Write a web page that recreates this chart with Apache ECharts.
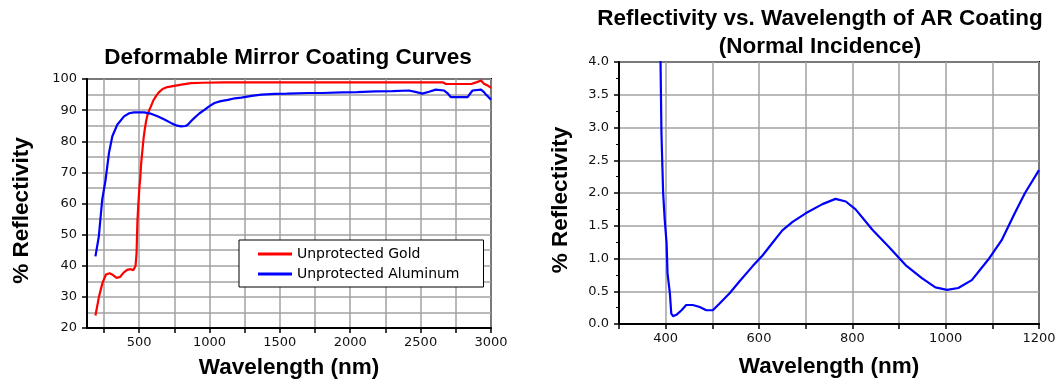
<!DOCTYPE html>
<html>
<head>
<meta charset="utf-8">
<script src="https://cdn.jsdelivr.net/npm/echarts@6/dist/echarts.min.js"></script>
<style>
  html, body { margin: 0; padding: 0; background: #fff; }
  #chart { width: 1062px; height: 385px; }
</style>
</head>
<body>
<div id="chart"></div>
<script>
// Deformable mirror coatings: reflectivity (%) against wavelength (nm)
const goldWavelength = [190, 215, 240, 265, 290, 315, 340, 365, 390, 415, 440, 460, 475, 482, 488, 495, 502, 508, 515, 524, 532, 540, 550, 560, 572, 584, 600, 619, 640, 667, 700, 750, 800, 869, 950, 1100, 1300, 1500, 1700, 1900, 2100, 2300, 2500, 2660, 2680, 2860, 2900, 2929, 2950, 2980, 3000];
const goldReflectivity = [24, 30, 34.5, 37.2, 37.6, 37.0, 36.1, 36.4, 37.8, 38.7, 38.9, 38.6, 40, 44, 54, 60, 65, 68, 73, 77.3, 81, 83.7, 86.5, 88.5, 90, 91.2, 93, 94.4, 95.7, 96.8, 97.4, 97.8, 98.2, 98.7, 98.8, 98.9, 98.9, 98.9, 98.9, 98.9, 98.9, 98.9, 98.9, 98.9, 98.4, 98.4, 99.0, 99.5, 98.5, 97.8, 97.2];

const aluminumWavelength = [190, 214, 238, 262, 286, 310, 345, 393, 430, 464, 536, 580, 631, 680, 726, 770, 798, 830, 846, 870, 893, 930, 964, 1000, 1036, 1080, 1131, 1180, 1226, 1300, 1369, 1464, 1550, 1703, 1800, 1941, 2050, 2179, 2300, 2417, 2470, 2512, 2560, 2607, 2667, 2690, 2714, 2834, 2855, 2869, 2929, 2950, 2964, 2990, 3000];
const aluminumReflectivity = [43, 49.4, 61.2, 67.6, 76.2, 81.6, 85.3, 88, 89, 89.3, 89.3, 88.9, 88, 87, 85.9, 85, 84.8, 84.9, 85.3, 86.5, 87.5, 89, 90.1, 91.3, 92.3, 92.9, 93.3, 93.8, 94.0, 94.6, 95.0, 95.2, 95.3, 95.5, 95.5, 95.7, 95.8, 96.0, 96.1, 96.3, 95.8, 95.3, 95.9, 96.6, 96.3, 95.5, 94.2, 94.2, 95.5, 96.3, 96.6, 95.8, 95.0, 93.8, 93.3];

// AR coating at normal incidence: reflectivity (%) against wavelength (nm)
const arWavelength = [388, 389, 391, 394.6, 398, 402, 404, 409, 412, 416, 423, 434, 444, 458, 473, 487, 501, 515, 537, 558, 586, 608, 629, 650, 672, 700, 736, 764, 786, 807, 843, 878, 914, 949, 978, 1003, 1027, 1056, 1091, 1120, 1148, 1170, 1200];
const arReflectivity = [4.4, 4.0, 2.9, 2.0, 1.59, 1.23, 0.77, 0.47, 0.16, 0.12, 0.14, 0.21, 0.29, 0.29, 0.26, 0.21, 0.21, 0.31, 0.47, 0.65, 0.88, 1.05, 1.24, 1.43, 1.56, 1.69, 1.83, 1.91, 1.87, 1.75, 1.44, 1.18, 0.90, 0.70, 0.56, 0.52, 0.55, 0.67, 0.98, 1.28, 1.69, 2.0, 2.35];

// Tick and label values
const mirrorXTicks = [250, 500, 750, 1000, 1250, 1500, 1750, 2000, 2250, 2500, 2750, 3000];
const mirrorXLabels = [500, 1000, 1500, 2000, 2500, 3000];
const arXLabels = [400, 600, 800, 1000, 1200];

const pairs = (xs, ys) => xs.map((x, i) => [x, ys[i]]);

const TITLE_FONT = { fontFamily: '"Liberation Sans", Arial, sans-serif', fontWeight: 'bold', fontSize: 22.5, color: '#000', lineHeight: 28 };
const TICK_FONT = { fontFamily: '"DejaVu Sans", sans-serif', fontSize: 13, color: '#111' };
const AXIS_LINE = { show: true, onZero: false, lineStyle: { color: '#000', width: 2 } };
const GRID_STYLE = { color: '#a2a2a2', width: 1.5 };
const GRID_LINE = { show: true, lineStyle: GRID_STYLE };
const TICK = { show: true, inside: false, length: 5, lineStyle: { color: '#000', width: 1.5 } };

const chart = echarts.init(document.getElementById('chart'), null, { renderer: 'canvas' });

chart.setOption({
  animation: false,
  backgroundColor: '#fff',
  title: [
    { text: 'Deformable Mirror Coating Curves', left: 288, top: 44, textAlign: 'center', padding: 0, textStyle: TITLE_FONT },
    { text: 'Reflectivity vs. Wavelength of AR Coating\n(Normal Incidence)', left: 820, top: 5, textAlign: 'center', padding: 0, textStyle: TITLE_FONT }
  ],
  legend: {
    data: ['Unprotected Gold', 'Unprotected Aluminum'],
    orient: 'vertical',
    left: 239,
    top: 240,
    padding: [7, 24, 6, 19],
    icon: 'rect',
    itemWidth: 34,
    itemHeight: 3,
    itemGap: 6,
    backgroundColor: '#fff',
    borderColor: '#000',
    borderWidth: 1,
    textStyle: { fontFamily: '"DejaVu Sans", sans-serif', fontSize: 14, color: '#000', lineHeight: 14 }
  },
  grid: [
    { left: 87, top: 79, width: 404, height: 249, outerBoundsMode: 'none', containLabel: false, show: true, borderColor: '#000', borderWidth: 2, backgroundColor: 'transparent' },
    { left: 619, top: 62, width: 420, height: 262, outerBoundsMode: 'none', containLabel: false, show: true, borderColor: '#000', borderWidth: 2, backgroundColor: 'transparent' }
  ],
  xAxis: [
    {
      type: 'value', gridIndex: 0, min: 130, max: 3000,
      axisLine: AXIS_LINE,
      axisTick: Object.assign({}, TICK, { customValues: mirrorXTicks }),
      axisLabel: Object.assign({}, TICK_FONT, { margin: 8, customValues: mirrorXLabels, formatter: v => String(v) }),
      splitLine: GRID_LINE,
      name: 'Wavelength (nm)', nameLocation: 'middle', nameGap: 25,
      nameTextStyle: TITLE_FONT
    },
    {
      type: 'value', gridIndex: 1, min: 300, max: 1200, interval: 100,
      axisLine: AXIS_LINE,
      axisTick: TICK,
      axisLabel: Object.assign({}, TICK_FONT, {
        margin: 8,
        formatter: v => (arXLabels.indexOf(v) >= 0 ? String(v) : '')
      }),
      splitLine: GRID_LINE,
      name: 'Wavelength (nm)', nameLocation: 'middle', nameGap: 29,
      nameTextStyle: TITLE_FONT
    }
  ],
  yAxis: [
    {
      type: 'value', gridIndex: 0, min: 20, max: 100, interval: 10,
      axisLine: AXIS_LINE,
      axisTick: TICK,
      minorTick: { show: false, splitNumber: 2 },
      minorSplitLine: { show: true, lineStyle: GRID_STYLE },
      axisLabel: Object.assign({}, TICK_FONT, { margin: 10 }),
      splitLine: GRID_LINE,
      name: '% Reflectivity', nameLocation: 'middle', nameRotate: 90, nameGap: 51,
      nameTextStyle: Object.assign({}, TITLE_FONT, { padding: [0, 14, 0, 0] })
    },
    {
      type: 'value', gridIndex: 1, min: 0, max: 4, interval: 0.5,
      axisLine: AXIS_LINE,
      axisTick: TICK,
      minorTick: { show: true, splitNumber: 2, length: 3, lineStyle: { color: '#000', width: 1 } },
      axisLabel: Object.assign({}, TICK_FONT, { margin: 10, formatter: v => v.toFixed(1) }),
      splitLine: GRID_LINE,
      name: '% Reflectivity', nameLocation: 'middle', nameRotate: 90, nameGap: 44,
      nameTextStyle: Object.assign({}, TITLE_FONT, { padding: [0, 14, 0, 0] })
    }
  ],
  series: [
    {
      name: 'Unprotected Gold', type: 'line', xAxisIndex: 0, yAxisIndex: 0,
      data: pairs(goldWavelength, goldReflectivity),
      symbol: 'none', clip: true,
      lineStyle: { color: '#ff0000', width: 2.2 }, itemStyle: { color: '#ff0000' }
    },
    {
      name: 'Unprotected Aluminum', type: 'line', xAxisIndex: 0, yAxisIndex: 0,
      data: pairs(aluminumWavelength, aluminumReflectivity),
      symbol: 'none', clip: true,
      lineStyle: { color: '#0000ff', width: 2.2 }, itemStyle: { color: '#0000ff' }
    },
    {
      name: 'AR Coating', type: 'line', xAxisIndex: 1, yAxisIndex: 1,
      data: pairs(arWavelength, arReflectivity),
      symbol: 'none', clip: true,
      lineStyle: { color: '#0000ff', width: 2.2 }, itemStyle: { color: '#0000ff' }
    }
  ]
});
</script>
</body>
</html>
